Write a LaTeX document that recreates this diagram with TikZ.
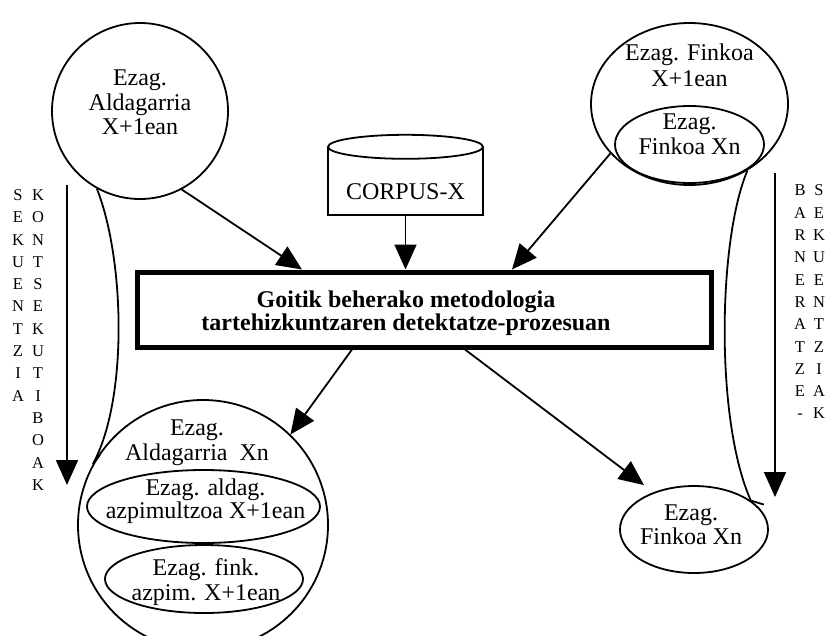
\documentclass[tikz,border=0pt]{standalone}
\usepackage{fontspec}
\setmainfont{Liberation Serif}
\usetikzlibrary{arrows.meta,shapes.geometric,calc}
\begin{document}
\begin{tikzpicture}[x=1pt,y=-1pt,
  line/.style={line width=1.8pt},
  tip/.style={-{Triangle[length=25pt,width=22pt]}},
  txt/.style={align=center, inner sep=0pt, font=\fontsize{24}{#1}\selectfont},
  txt/.default=24.5,
  vtxt/.style={align=center, inner sep=0pt, font=\fontsize{16.5}{22.3}\selectfont},
  oval/.style={ellipse, draw, line width=1.8pt, inner sep=0pt},
]
\useasboundingbox (0,0) rectangle (827,635);

% --- top left: variable knowledge in X+1
\node[oval, minimum width=176pt, minimum height=176pt] (topL) at (140,111) {};
\node[txt] (topLt) at (140,102.5) {Ezag.\\Aldagarria\\X+1ean};

% --- top right: fixed knowledge, with the Xn subset inside
\node[oval, minimum width=197pt, minimum height=162pt] (topR) at (689.5,104) {};
\node[txt=26] (topRt) at (689.5,65.5) {Ezag. Finkoa\\X+1ean};
\node[oval, minimum width=149pt, minimum height=77pt] (topRin) at (689.5,144.5) {};
\node[txt=25] (topRint) at (689.5,134.5) {Ezag.\\Finkoa Xn};

% --- corpus cylinder
\node[minimum width=155pt, minimum height=68pt, inner sep=0pt] (corpus) at (405.5,181) {};
\draw[line] (corpus.north west) -- (corpus.south west) -- (corpus.south east) -- (corpus.north east);
\draw[line] (corpus.north) ellipse [x radius=77.5pt, y radius=12pt];
\node[txt] (corpust) at (405.5,192) {CORPUS-X};

% --- central process box
\node[draw, line width=5pt, minimum width=574pt, minimum height=75pt, inner sep=0pt] (box) at (424,309.5) {};
\node[align=center, inner sep=0pt, font=\fontsize{24}{23}\selectfont\bfseries] (boxt) at (406,313.5)
  {Goitik beherako metodologia\\tartehizkuntzaren detektatze-prozesuan};

% --- bottom left: variable knowledge in Xn with its two subsets
\node[oval, minimum width=250pt, minimum height=250pt] (blC) at (203,525) {};
\node[txt] (blCt) at (197,442.5) {Ezag.\\Aldagarria\ \ Xn};
\node[oval, minimum width=233pt, minimum height=73pt] (blE1) at (203.5,506.5) {};
\node[txt=23] (blE1t) at (205.5,501.5) {Ezag. aldag.\\azpimultzoa X+1ean};
\node[oval, minimum width=198pt, minimum height=68pt] (blE2) at (204,579) {};
\node[txt=25] (blE2t) at (206,582.5) {Ezag. fink.\\azpim. X+1ean};

% --- bottom right: fixed knowledge in Xn
\node[oval, minimum width=148pt, minimum height=87pt] (brE) at (694,529.5) {};
\node[txt=24] (brEt) at (691,525) {Ezag.\\Finkoa Xn};

% --- arrows into and out of the process box
\draw[line, tip] (topL.-62) -- ([xshift=167.5pt]box.north west);
\draw[line, tip] (corpus.south) -- (corpus.south |- box.north);
\draw[line, tip] (topR.212) -- ([xshift=377.5pt]box.north west);
\draw[line, tip] ([xshift=217.5pt]box.south west) -- (blC.46);
\draw[line, tip] ([xshift=330.5pt]box.south west) -- ([xshift=-50pt]brE.north);

% --- links between the X+1 and Xn sets
\draw[line] (topL.-119.5) .. controls (125,260) and (128,400) .. (blC.151.5) -- ++(7,-9);
\draw[line] (topR.-49) .. controls (718,240) and (715,420) .. (brE.27.8) -- ++(13,4);

% --- side arrows with their vertical captions
\coordinate (lTop) at (67,185);
\coordinate (lBot) at (67,485);
\draw[line, tip] (lTop) -- (lBot);
\node[vtxt] (lc1) at (18,295.3) {S\\E\\K\\U\\E\\N\\T\\Z\\I\\A};
\node[vtxt] (lc2) at (38,340) {K\\O\\N\\T\\S\\E\\K\\U\\T\\I\\B\\O\\A\\K};

\coordinate (rTop) at (775,173);
\coordinate (rBot) at (775,497);
\draw[line, tip] (rTop) -- (rBot);
\node[vtxt] (rc1) at (800,302) {B\\A\\R\\N\\E\\R\\A\\T\\Z\\E\\-};
\node[vtxt] (rc2) at (819,302) {S\\E\\K\\U\\E\\N\\T\\Z\\I\\A\\K};
\end{tikzpicture}
\end{document}
